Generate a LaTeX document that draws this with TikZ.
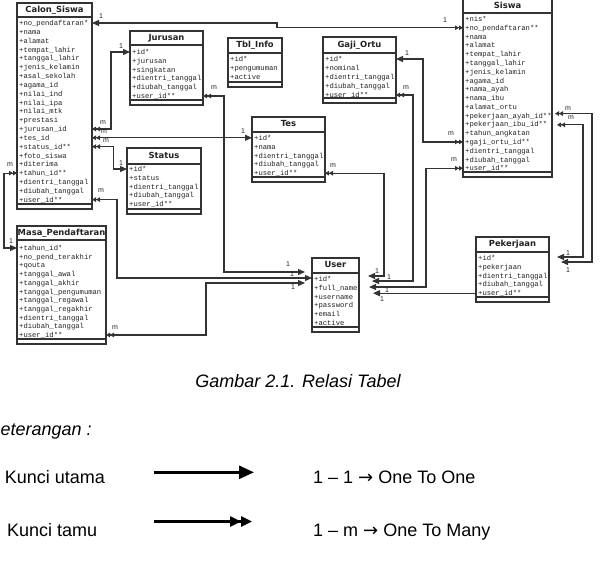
\documentclass[tikz,border=0pt]{standalone}
\usepackage{fontspec}
\setmainfont{Liberation Sans}
\newfontfamily\monof{Liberation Mono}
\newfontfamily\titlef{DejaVu Sans}
\newfontfamily\arrowf{DejaVu Sans}
\usetikzlibrary{arrows.meta,calc}
\definecolor{ln}{HTML}{333333}
\definecolor{tx}{HTML}{222222}
\tikzset{
  tblbox/.style={draw=ln, line width=1.3pt, fill=white, inner sep=0pt, outer sep=0pt, anchor=north west},
  tblline/.style={draw=ln, line width=1.1pt},
  tbltitle/.style={font=\titlef\bfseries\fontsize{8.4}{10}\selectfont, text=tx, inner sep=0pt, text height=6.2pt, text depth=1.6pt},
  tblrow/.style={font=\monof\fontsize{7.2}{8}\selectfont, text=tx, inner sep=0pt, anchor=west, text height=5.8pt, text depth=0.6pt},
  conn/.style={draw=ln, line width=1.2pt},
  lbl/.style={font=\fontsize{7}{8}\selectfont, text=tx, inner sep=0pt},
  legl/.style={draw=black, line width=2.6pt},
  bigtxt/.style={font=\fontsize{18}{20}\selectfont, text=black, inner sep=0pt, anchor=base west},
  dbl/.tip={Triangle[length=4pt,width=4.5pt] Triangle[length=4pt,width=4.5pt]},
  sgl/.tip={Triangle[length=7pt,width=6pt]},
}
% #1 name, #2 x1, #3 x2, #4 ytop, #5 ytitle, #6 ybot, #7 title, #8 first row y, #9 rows
\newcommand\mktable[9]{%
  \node[tblbox, minimum width={(#3-#2)*1pt}, minimum height={(#6-#4)*1pt}] (#1) at (#2,#4) {};
  \draw[tblline] (#1.west |- 0,#5) -- (#1.east |- 0,#5);
  \draw[tblline] ($(#1.south west)+(0,-5)$) -- ($(#1.south east)+(0,-5)$);
  \path (#1.north) -- (#1.north |- 0,#5) node[midway, tbltitle] (#1-t) {#7};
  \foreach \rw [count=\i from 0] in {#9} {
    \node[tblrow] (#1-\i) at ($(#1.west |- 0,{#8+\i*\rowstep})+(2,0)$) {\rw};
  }
}
\begin{document}
\begin{tikzpicture}[x=1pt,y=-1pt]
\useasboundingbox (0,0) rectangle (600,580);
\clip (0,0) rectangle (600,580);
\fill[white] (0,0) rectangle (600,580);

\def\rowstep{8.83}
\mktable{cs}{17}{92}{3}{17}{209}{Calon\_Siswa}{23}{+no\_pendaftaran*,+nama,+alamat,+tempat\_lahir,+tanggal\_lahir,+jenis\_kelamin,+asal\_sekolah,+agama\_id,+nilai\_ind,+nilai\_ipa,+nilai\_mtk,+prestasi,+jurusan\_id,+tes\_id,+status\_id**,+foto\_siswa,+diterima,+tahun\_id**,+dientri\_tanggal,+diubah\_tanggal,+user\_id**}
\def\rowstep{8.8}
\mktable{ju}{130}{203}{31}{45}{105}{Jurusan}{52}{+id*,+jurusan,+singkatan,+dientri\_tanggal,+diubah\_tanggal,+user\_id**}
\def\rowstep{9}
\mktable{ti}{228}{282}{38}{53}{87}{Tbl\_Info}{59.3}{+id*,+pengumuman,+active}
\def\rowstep{8.8}
\mktable{te}{252}{325}{117}{132}{182}{Tes}{138}{+id*,+nama,+dientri\_tanggal,+diubah\_tanggal,+user\_id**}
\mktable{st}{127}{201}{148}{164}{214}{Status}{169}{+id*,+status,+dientri\_tanggal,+diubah\_tanggal,+user\_id**}
\def\rowstep{9}
\mktable{go}{323}{396}{37}{53}{103}{Gaji\_Ortu}{59}{+id*,+nominal,+dientri\_tanggal,+diubah\_tanggal,+user\_id**}
\def\rowstep{8.78}
\mktable{si}{463}{552}{-1.5}{13}{177}{Siswa}{19}{+nis*,+no\_pendaftaran**,+nama,+alamat,+tempat\_lahir,+tanggal\_lahir,+jenis\_kelamin,+agama\_id,+nama\_ayah,+nama\_ibu,+alamat\_ortu,+pekerjaan\_ayah\_id**,+pekerjaan\_ibu\_id**,+tahun\_angkatan,+gaji\_ortu\_id**,+dientri\_tanggal,+diubah\_tanggal,+user\_id**}
\def\rowstep{8.7}
\mktable{mp}{17}{106}{226}{240}{344}{Masa\_Pendaftaran}{248}{+tahun\_id*,+no\_pend\_terakhir,+qouta,+tanggal\_awal,+tanggal\_akhir,+tanggal\_pengumuman,+tanggal\_regawal,+tanggal\_regakhir,+dientri\_tanggal,+diubah\_tanggal,+user\_id**}
\def\rowstep{8.8}
\mktable{us}{312}{359}{258}{273}{332}{User}{279}{+id*,+full\_name,+username,+password,+email,+active}
\mktable{pk}{476}{549}{237}{252}{302}{Pekerjaan}{258}{+id*,+pekerjaan,+dientri\_tanggal,+diubah\_tanggal,+user\_id**}

% free ends near User / Pekerjaan / Siswa
\coordinate (ua) at ($(us.west |- us-0)+(-7,-7)$);
\coordinate (ub) at ($(us.west |- us-0)+(0,-1)$);
\coordinate (uc) at ($(us.west |- us-0)+(-7,4)$);
\coordinate (ra) at ($(us.east |- us-0)+(9,-3)$);
\coordinate (rb) at ($(us.east |- us-0)+(13,2)$);
\coordinate (rc) at ($(us.east |- us-0)+(10,8)$);
\coordinate (rd) at ($(us.east |- pk-4)+(14,0)$);
\coordinate (pa) at ($(pk.east |- pk-0)+(8,-1)$);
\coordinate (pb) at ($(pk.east |- pk-0)+(12,4)$);
\coordinate (sa) at ($(si.east |- si-11)+(3,-2)$);
\coordinate (sb) at ($(si.east |- si-12)+(5,0.5)$);

% connectors
\draw[conn, sgl-dbl] (cs.east |- cs-0) -- ++(185,0) |- (si.west |- si-1);
\draw[conn, dbl-sgl] (cs.east |- cs-12) -- ++(19,0) |- (ju.west |- ju-0);
\draw[conn, dbl-sgl] (cs.east |- cs-13) -- (te.west |- cs-13);
\draw[conn, dbl-sgl] (cs.east |- cs-14) -- ++(21.5,0) |- (st.west |- st-0);
\draw[conn, dbl-sgl] (cs.west |- cs-17) -- ++(-13,0) |- (mp.west |- mp-0);
\draw[conn, dbl-sgl] (cs.east |- cs-20) -- ++(25,0) |- (ub);
\draw[conn, dbl-sgl] (ju.east |- ju-5) -- ++(21,0) |- (ua);
\draw[conn, dbl-sgl] (mp.east |- mp-10) -- ++(100,0) |- (uc);
\draw[conn, dbl-sgl] (te.east |- te-4) -- ++(59,0) |- (ra);
\draw[conn, dbl-sgl] (go.east |- go-4) -- ++(17,0) |- (rb);
\draw[conn, dbl-sgl] (si.west |- si-14) -- ++(-40,0) |- (go.east |- go-0);
\draw[conn, dbl-sgl] (si.west |- si-17) -- ++(-37,0) |- (rc);
\draw[conn, -sgl] (pk.west |- pk-4) -- (rd);
\draw[conn, dbl-sgl] (sa) -- ++(37,0) |- (pb);
\draw[conn, dbl-sgl] (sb) -- ++(26,0) |- (pa);

% cardinality labels
\node[lbl] (l1) at (101,16) {1};
\node[lbl] (l2) at (445,20) {1};
\node[lbl] (l3) at (103,123) {m};
\node[lbl] (l4) at (121,46) {1};
\node[lbl] (l5) at (104,132) {m};
\node[lbl] (l6) at (243,131) {1};
\node[lbl] (l7) at (106,141) {m};
\node[lbl] (l8) at (121,163) {1};
\node[lbl] (l9) at (10,165) {m};
\node[lbl] (l10) at (11,241) {1};
\node[lbl] (l11) at (101,191) {m};
\node[lbl] (l12) at (292,274.5) {1};
\node[lbl] (l13) at (214,88) {m};
\node[lbl] (l14) at (288,264) {1};
\node[lbl] (l15) at (115,328) {m};
\node[lbl] (l16) at (293,287) {1};
\node[lbl] (l17) at (333,166) {m};
\node[lbl] (l18) at (377,271) {1};
\node[lbl] (l19) at (406,88) {m};
\node[lbl] (l20) at (389,277) {1};
\node[lbl] (l21) at (407,53) {1};
\node[lbl] (l22) at (451,134) {m};
\node[lbl] (l23) at (454,160) {m};
\node[lbl] (l24) at (387,290) {1};
\node[lbl] (l25) at (382,299) {1};
\node[lbl] (l26) at (568,109) {m};
\node[lbl] (l27) at (571,118) {m};
\node[lbl] (l28) at (568,253) {1};
\node[lbl] (l29) at (568,270) {1};

% caption and legend
\node[bigtxt, anchor=base] (cap) at (298,387) {\itshape Gambar 2.1. Relasi Tabel};
\node[bigtxt] (ket) at (0.5,435) {\itshape eterangan :};
\node[bigtxt] (ku) at (4.6,483) {Kunci utama};
\node[bigtxt] (kt) at (7,536) {Kunci tamu};
\node[bigtxt] (o1) at (313,483) {1 – 1 {\arrowf →} One To One};
\node[bigtxt] (o2) at (313,536) {1 – m {\arrowf →} One To Many};
\coordinate (g1a) at (154,472.3);
\coordinate (g1b) at (254,472.3);
\draw[legl, -{Triangle[length=15pt,width=13pt]}] (g1a) -- (g1b);
\coordinate (g2a) at (154,521.5);
\coordinate (g2b) at (252,521.5);
\draw[legl, -{Triangle[length=11pt,width=10pt] Triangle[length=11pt,width=10pt]}] (g2a) -- (g2b);
\end{tikzpicture}
\end{document}
